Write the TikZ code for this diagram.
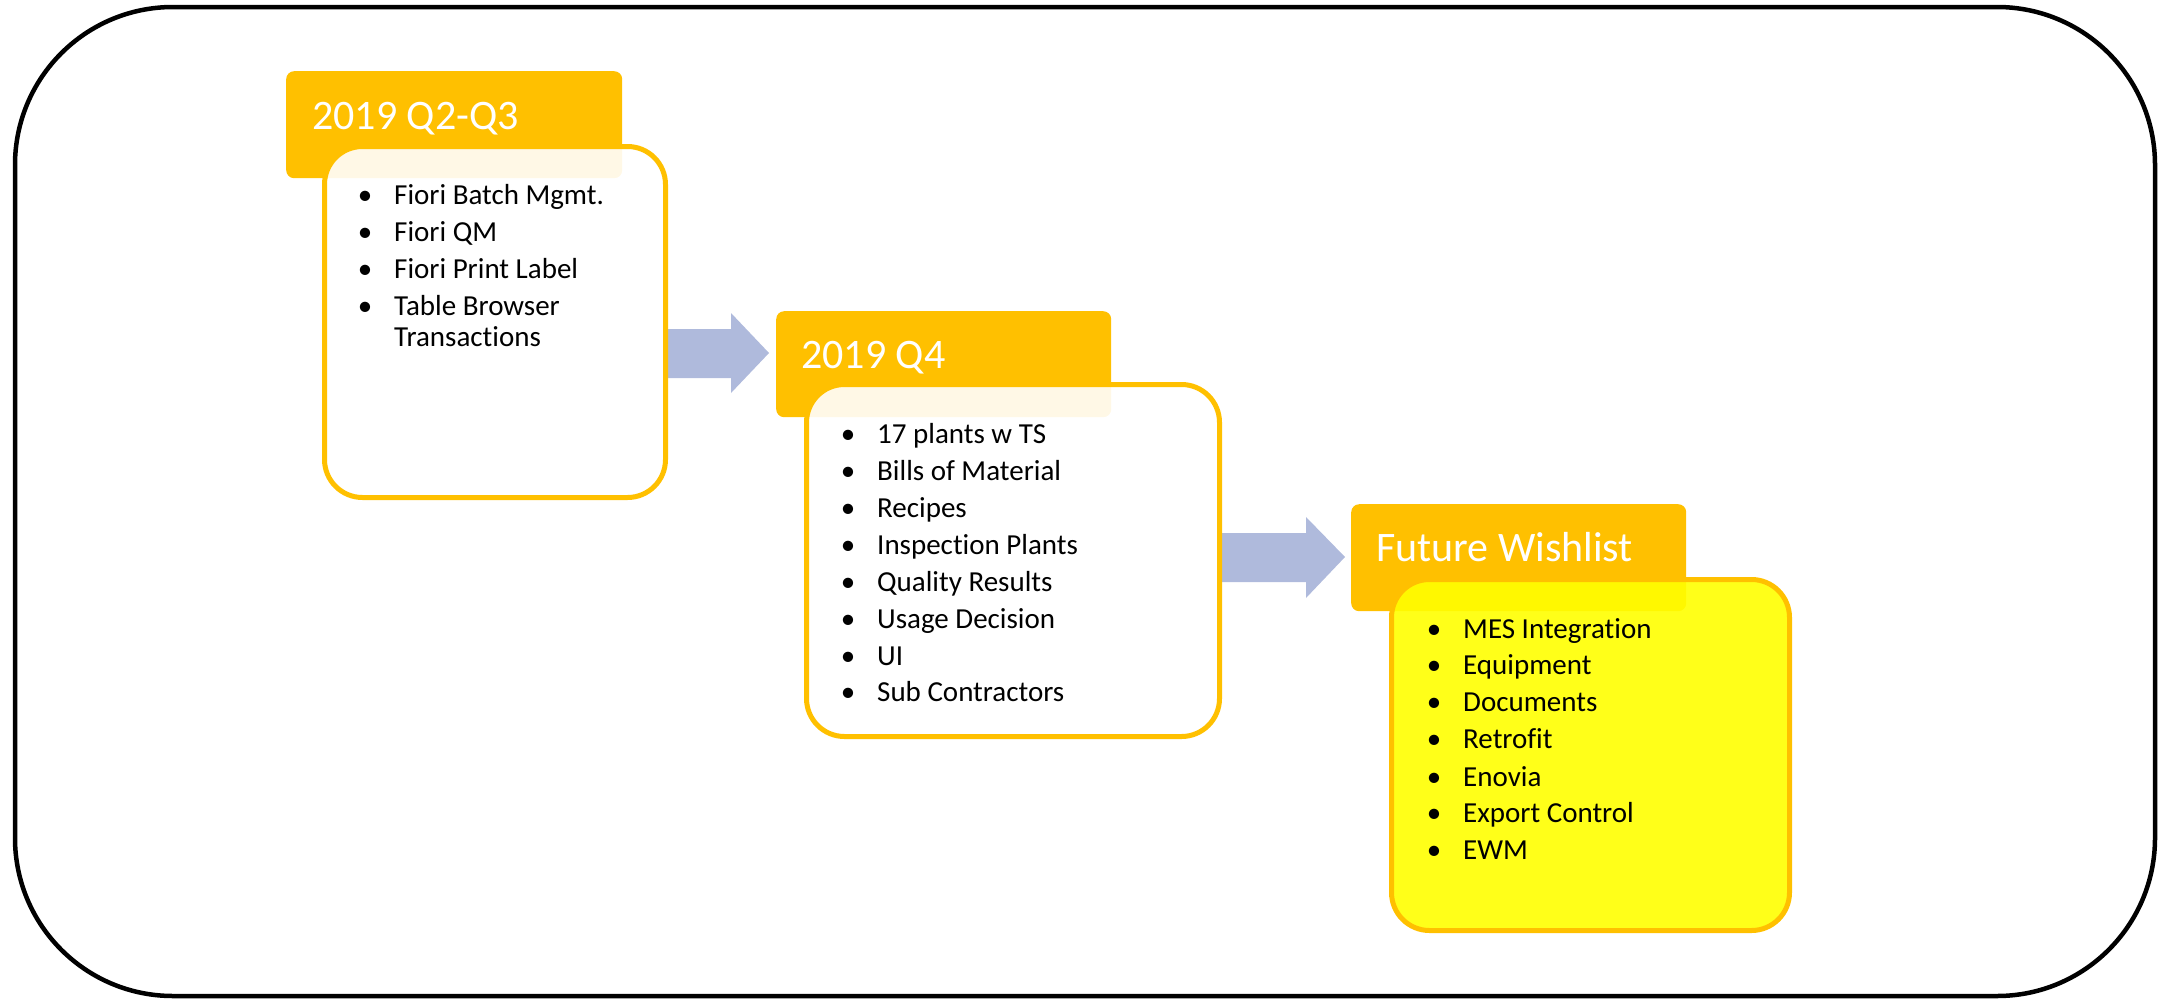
\documentclass[tikz,border=0pt]{standalone}
\usepackage{fontspec}
\setmainfont{Carlito}[Ligatures=NoCommon]
\definecolor{gold}{RGB}{255,192,0}
\definecolor{peri}{RGB}{175,186,220}
\definecolor{wish}{RGB}{255,255,0}
\begin{document}
\begin{tikzpicture}[x=1pt,y=-1pt,
  hdr/.style={fill=gold, draw=none, rounded corners=8pt, anchor=north west, inner sep=0pt},
  body/.style={draw=gold, line width=5pt, fill=#1, fill opacity=0.9, rounded corners=38pt, anchor=north west, inner sep=0pt},
  body/.default=white,
  ttl/.style={anchor=base west, text=white, inner sep=0pt, font=\fontsize{42}{50}\selectfont},
  itm/.style={anchor=base west, text=black, inner sep=0pt, font=\fontsize{29}{35}\selectfont},
  bul/.style={anchor=base, text=black, inner sep=0pt, font=\fontsize{29}{35}\selectfont},
  blockarrow/.style={fill=peri, draw=none}]
\useasboundingbox (0,0) rectangle (2158,999);
% outer frame
\draw[line width=4.5pt, rounded corners=158pt] (15,7) rectangle (2155,996);

% block arrows (start behind box border, tip just before next header)
\coordinate (a1s) at (663,353);
\coordinate (a1t) at (769,353);
\coordinate (a2s) at (1218,557);
\coordinate (a2t) at (1345,557);
\fill[blockarrow] ([yshift=24pt]a1s) -- ([xshift=-38pt,yshift=24pt]a1t) -- ([xshift=-38pt,yshift=40pt]a1t) -- (a1t)
  -- ([xshift=-38pt,yshift=-40pt]a1t) -- ([xshift=-38pt,yshift=-25pt]a1t) -- ([yshift=-25pt]a1s) -- cycle;
\fill[blockarrow] ([yshift=24pt]a2s) -- ([xshift=-39pt,yshift=24pt]a2t) -- ([xshift=-39pt,yshift=40pt]a2t) -- (a2t)
  -- ([xshift=-39pt,yshift=-41pt]a2t) -- ([xshift=-39pt,yshift=-25pt]a2t) -- ([yshift=-25pt]a2s) -- cycle;

% box 1
\node[hdr, minimum width=336pt, minimum height=107pt] (h1) at (286,71) {};
\node[body, minimum width=341pt, minimum height=351pt] (b1) at (322,144) {};
\node[ttl] (t1) at (312,129) {2019 Q2-Q3};
\foreach \y/\txt [count=\i] in {204/Fiori Batch Mgmt., 241/Fiori QM, 278/Fiori Print Label, 315/Table Browser}{
  \node[bul] (b1d\i) at (365,\y) {•};
  \node[itm] (b1i\i) at (394,\y) {\txt};
}
\node[itm] (b1i5) at (394,346) {Transactions};

% box 2
\node[hdr, minimum width=335pt, minimum height=106pt] (h2) at (776,311) {};
\node[body, minimum width=413pt, minimum height=352pt] (b2) at (804,382) {};
\node[ttl] (t2) at (801,368) {2019 Q4};
\foreach \y/\txt [count=\i] in {443/17 plants w TS, 480/Bills of Material, 517/Recipes, 554/Inspection Plants, 591/Quality Results, 628/Usage Decision, 665/UI, 701/Sub Contractors}{
  \node[bul] (b2d\i) at (848,\y) {•};
  \node[itm] (b2i\i) at (877,\y) {\txt};
}

% box 3
\node[hdr, minimum width=335pt, minimum height=107pt] (h3) at (1351,504) {};
\node[body=wish, minimum width=398pt, minimum height=351pt] (b3) at (1389,577) {};
\node[ttl] (t3) at (1376,561) {Future Wishlist};
\foreach \y/\txt [count=\i] in {638/MES Integration, 674/Equipment, 711/Documents, 748/Retrofit, 786/Enovia, 822/Export Control, 859/EWM}{
  \node[bul] (b3d\i) at (1434,\y) {•};
  \node[itm] (b3i\i) at (1463,\y) {\txt};
}
\end{tikzpicture}
\end{document}
